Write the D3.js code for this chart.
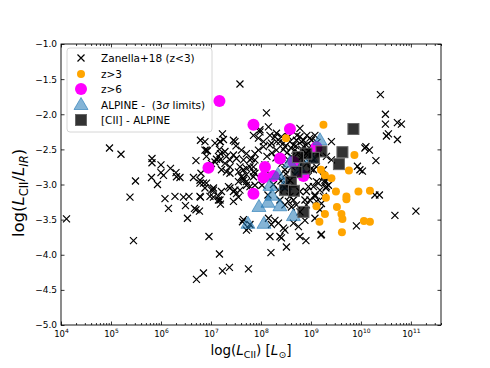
<!DOCTYPE html>
<html>
<head>
<meta charset="utf-8">
<script src="https://cdn.jsdelivr.net/npm/d3@7"></script>
<style>
  body { margin: 0; background: #fff; }
  text { font-family: "DejaVu Sans", sans-serif; }
</style>
</head>
<body>
<svg id="chart" width="490" height="368"></svg>
<script>
// values are [log10 L_CII, log(L_CII/L_IR)]
const zanella = [
  [4.11,-3.49],[4.97,-2.48],[5.20,-2.57],[5.49,-2.95],[5.38,-3.18],[5.45,-3.80],[5.82,-2.63],[5.82,-2.69],
  [5.81,-2.90],[5.93,-3.00],[6.00,-2.72],[6.00,-2.83],[6.19,-2.77],[6.30,-2.83],[6.31,-2.89],[6.38,-2.90],
  [6.08,-3.20],[6.15,-3.34],[6.28,-3.17],[6.49,-3.30],[6.53,-3.48],[6.56,-3.17],[6.67,-3.34],[6.77,-3.38],
  [6.65,-2.90],[6.70,-2.66],[6.79,-2.37],[6.91,-2.51],[6.80,-2.84],[6.85,-2.98],[6.91,-2.98],[6.79,-3.18],
  [6.96,-3.74],[6.71,-4.35],[6.85,-4.26],[6.05,-2.87],[6.45,-3.18],[6.70,-3.36],
  [7.23,-2.28],[7.25,-2.36],[7.19,-2.39],[7.48,-2.39],[7.50,-2.45],[6.93,-2.52],[7.17,-2.50],[7.19,-2.56],
  [7.11,-2.64],[7.31,-2.60],[7.38,-2.65],[7.45,-2.58],[7.51,-2.63],[7.28,-2.70],[7.38,-2.75],[7.01,-2.70],
  [7.08,-2.68],[7.21,-2.79],[7.31,-2.82],[7.38,-2.84],[6.88,-3.05],[7.01,-3.08],[7.05,-3.18],[7.15,-3.22],
  [7.19,-3.28],[7.35,-3.03],[7.38,-3.05],[7.45,-3.10],[7.51,-3.13],[7.55,-3.18],[7.58,-1.57],[8.11,-1.98],
  [7.63,-3.53],[7.75,-3.62],[8.15,-3.48],[8.28,-3.51],[8.35,-3.55],[8.45,-3.62],[8.48,-3.65],[8.65,-3.55],
  [8.75,-3.60],[8.88,-3.51],[9.08,-3.48],[8.18,-3.74],[8.41,-3.76],[8.51,-3.89],[8.78,-3.74],[8.90,-3.80],
  [9.20,-3.72],[8.20,-3.97],[7.75,-4.20],[7.17,-3.99],[7.23,-4.23],[7.37,-4.18],
  [10.39,-1.72],[10.49,-2.00],[10.49,-2.14],[10.73,-2.12],[10.81,-2.14],[10.55,-2.28],[10.51,-2.31],[10.73,-2.36],
  [9.41,-2.39],[10.10,-2.46],[10.08,-2.48],[10.17,-2.51],[10.30,-2.66],[9.93,-2.74],[9.98,-2.79],[10.03,-2.81],
  [9.28,-2.97],[9.30,-3.05],[10.28,-3.15],[10.37,-3.15],[9.21,-3.27],[9.18,-3.36],[10.68,-3.44],[11.10,-3.38],
  [9.91,-3.59],[9.21,-3.71],[9.41,-2.65],[9.31,-2.60],
  [6.88,-2.39],[7.18,-2.39],[7.65,-2.65],[7.81,-2.63],[7.88,-2.56],[7.95,-2.51],[8.05,-2.46],[8.18,-2.44],
  [8.31,-2.39],[8.45,-2.41],[8.58,-2.39],[6.78,-2.98],[7.05,-3.08],[7.15,-3.17],[7.65,-2.91],[7.71,-2.96],
  [7.78,-3.03],[7.58,-3.08],[7.61,-2.89],[7.71,-2.86],[7.85,-2.82],[7.85,-2.89],[7.78,-2.75],[7.65,-2.79],
  [7.55,-2.82],[8.38,-3.22],[8.48,-3.29],[8.55,-3.24],[8.61,-3.32],[8.71,-3.29],[8.78,-3.39],[8.91,-3.29],
  [8.98,-3.22],[9.08,-3.15],[9.11,-3.24],[8.91,-3.10],[9.05,-3.03],[9.18,-3.08],[7.65,-3.50],[7.78,-3.57],
  [7.71,-3.65],[8.21,-3.57],[8.38,-3.74],
  [8.15,-2.18],[7.98,-2.25],[7.95,-2.34],[8.18,-2.30],[8.31,-2.27],[8.41,-2.32],[8.78,-2.20],[8.85,-2.37],
  [8.98,-2.34],[8.71,-2.37],[8.65,-2.44],[6.88,-2.51],[6.91,-2.60],[7.08,-2.41],[7.45,-2.37],[7.28,-2.53],
  [7.15,-2.60],[7.61,-2.51],[7.71,-2.56],[7.78,-2.65],[7.88,-2.65],[7.58,-2.75],[7.71,-2.77],[7.85,-2.75],
  [7.18,-2.65],[6.78,-2.94],[7.05,-3.05],[7.21,-3.10],[7.65,-2.94],[7.71,-3.01],[6.78,-3.17],[6.98,-3.17],
  [7.18,-3.22],[7.45,-3.24],[8.85,-2.46],[8.91,-2.56],[9.05,-2.65],[9.11,-2.75],[9.25,-2.79],[9.05,-2.79],
  [9.25,-2.89],[9.15,-2.98],[9.31,-3.03],[9.25,-3.17],[9.08,-3.17],
  [7.85,-2.30],[7.98,-2.22],[8.28,-2.32],[8.05,-2.39],[8.21,-2.41],[8.38,-2.39],[8.48,-2.46],[8.31,-2.51],
  [8.78,-2.32],[8.81,-2.39],[8.91,-2.44],[9.01,-2.37],[9.08,-2.30],[8.68,-2.51],[8.61,-2.60],[7.88,-2.84],
  [7.55,-2.96],[7.88,-3.01],[7.48,-3.08],[8.35,-2.89],[8.35,-3.08],[8.48,-3.05],[8.58,-3.17],[8.65,-3.22],
  [8.78,-3.10],[8.95,-3.03],[9.11,-2.96],[9.28,-2.94],[9.35,-3.01],[8.88,-3.22],
  [8.08,-2.72],[8.18,-2.86],[8.48,-2.79],[8.68,-2.86],[8.78,-2.72],[8.58,-2.94],[8.02,-3.01],[8.14,-3.15],
  [8.45,-2.50],[8.52,-2.55],[8.60,-2.48],[8.70,-2.45],[8.75,-2.55],[8.82,-2.50],[8.88,-2.62],[8.95,-2.52],
  [9.00,-2.45],[9.02,-2.58],[8.55,-2.65],[8.62,-2.75],[8.70,-2.68],[8.80,-2.62],[8.92,-2.70],[9.00,-2.78],
  [8.50,-2.85],[8.42,-2.70],[8.30,-2.62],[8.22,-2.55],[8.12,-2.60],[8.40,-2.95],[8.52,-3.00],[8.25,-3.00],
  [8.95,-2.88],[9.15,-2.55],[9.12,-2.40],[8.72,-2.30],[8.92,-2.30],[8.55,-2.32]
];

const zGt3 = [
  [9.25,-2.15],[8.50,-2.34],[9.87,-2.58],[9.76,-2.80],[9.20,-2.79],[9.28,-2.87],[9.41,-2.91],[9.50,-3.10],
  [9.30,-3.19],[9.71,-3.17],[9.71,-3.21],[9.95,-3.10],[10.18,-3.09],[9.11,-3.31],[9.52,-3.32],[9.61,-3.42],
  [9.63,-3.49],[9.28,-3.42],[9.17,-3.53],[10.06,-3.52],[10.18,-3.53],[9.62,-3.68]
];

const zGt6 = [
  [7.17,-1.81],[7.85,-2.15],[8.58,-2.21],[8.38,-2.63],[6.95,-2.76],[8.08,-2.75],
  [8.05,-2.90],[8.25,-2.88],[7.85,-3.13],[9.11,-2.47],[8.85,-2.88],[8.65,-2.68]
];

const alpineLimits = [
  [7.74,-3.56],[8.06,-3.56],[7.96,-3.32],[8.14,-3.26],[8.22,-3.16],[8.18,-3.02],[8.38,-3.31],
  [8.65,-3.45],[8.58,-2.69],[8.78,-2.79],[9.01,-2.63],[9.18,-2.37],[8.48,-3.01],[8.34,-2.86]
];

const alpineCII = [
  [9.85,-2.21],[9.63,-2.54],[9.56,-2.71],[9.21,-2.53],[9.06,-2.62],[8.91,-2.56],[8.74,-2.61],
  [8.88,-2.77],[8.71,-2.82],[8.60,-2.96],[8.48,-3.08],[8.66,-3.09],[8.85,-3.39]
];

const yTicks = [-5.0, -4.5, -4.0, -3.5, -3.0, -2.5, -2.0, -1.5, -1.0];
const xDecades = [4, 5, 6, 7, 8, 9, 10, 11];
const legendLabels = ["Zanella+18 (z<3)", "z>3", "z>6", "ALPINE -  (3σ limits)", "[CII] - ALPINE"];

main();

function main() {
  const svg = d3.select("#chart");
  const xLeft = 61, xRight = 441, yTop = 44, yBottom = 325;

  const x = d3.scaleLog().domain([1e4, 4e11]).range([xLeft, xRight]);
  const y = d3.scaleLinear().domain([-5, -1]).range([yBottom, yTop]);
  const px = d => x(Math.pow(10, d[0]));
  const py = d => y(d[1]);

  const majorX = xDecades.map(e => Math.pow(10, e));
  const minorX = [];
  xDecades.forEach(e => {
    for (let k = 2; k <= 9; k++) {
      const v = k * Math.pow(10, e);
      if (v <= 4e11) minorX.push(v);
    }
  });

  // axes, ticks pointing inward
  const gx = svg.append("g").attr("transform", `translate(0,${yBottom})`)
    .call(d3.axisBottom(x).tickValues(majorX).tickSize(-3.5).tickSizeOuter(0).tickFormat(""));
  svg.append("g").attr("transform", `translate(0,${yBottom})`)
    .call(d3.axisBottom(x).tickValues(minorX).tickSize(-2).tickSizeOuter(0).tickFormat(""));
  svg.append("g").attr("transform", `translate(0,${yTop})`)
    .call(d3.axisTop(x).tickValues(majorX).tickSize(-3.5).tickSizeOuter(0).tickFormat(""));
  svg.append("g").attr("transform", `translate(0,${yTop})`)
    .call(d3.axisTop(x).tickValues(minorX).tickSize(-2).tickSizeOuter(0).tickFormat(""));
  svg.append("g").attr("transform", `translate(${xLeft},0)`)
    .call(d3.axisLeft(y).tickValues(yTicks).tickSize(-3.5).tickSizeOuter(0).tickPadding(4)
      .tickFormat(d3.format(".1f")))
    .call(g => g.selectAll("text").attr("font-size", 9).attr("fill", "#000")
      .attr("font-family", "DejaVu Sans"));
  svg.append("g").attr("transform", `translate(${xRight},0)`)
    .call(d3.axisRight(y).tickValues(yTicks).tickSize(-3.5).tickSizeOuter(0).tickFormat(""));
  svg.selectAll(".domain").remove();
  svg.selectAll(".tick line").attr("stroke", "#000").attr("stroke-width", 0.8);

  gx.selectAll(".tick").each(function(d) {
    const t = d3.select(this).append("text")
      .attr("y", 11.5).attr("text-anchor", "middle").attr("fill", "#000").attr("font-size", 8.5);
    t.append("tspan").text("10");
    t.append("tspan").attr("dy", -3.5).attr("font-size", 6).text(Math.round(Math.log10(d)));
  });

  // data layers
  const plot = svg.append("g");

  plot.selectAll(".zan").data(zanella).join("path")
    .attr("transform", d => `translate(${px(d)},${py(d)})`)
    .attr("d", "M-3.5,-3.5L3.5,3.5M-3.5,3.5L3.5,-3.5")
    .attr("stroke", "#000").attr("stroke-width", 1.2).attr("fill", "none");

  plot.selectAll(".z3").data(zGt3).join("circle")
    .attr("cx", px).attr("cy", py).attr("r", 4).attr("fill", "orange");

  plot.selectAll(".z6").data(zGt6).join("circle")
    .attr("cx", px).attr("cy", py).attr("r", 6).attr("fill", "magenta");

  const triPath = "M0,-7.5L7,4.5L-7,4.5Z";
  plot.selectAll(".alp").data(alpineLimits).join("path")
    .attr("transform", d => `translate(${px(d)},${py(d)})`)
    .attr("d", triPath)
    .attr("fill", "#1f77b4").attr("fill-opacity", 0.55)
    .attr("stroke", "#1f77b4").attr("stroke-opacity", 0.6).attr("stroke-width", 1);

  plot.selectAll(".cii").data(alpineCII).join("rect")
    .attr("x", d => px(d) - 5.5).attr("y", d => py(d) - 5.5)
    .attr("width", 11).attr("height", 11)
    .attr("fill", "#000").attr("fill-opacity", 0.8)
    .attr("stroke", "#666").attr("stroke-width", 1);

  // frame
  svg.append("rect").attr("x", xLeft).attr("y", yTop)
    .attr("width", xRight - xLeft).attr("height", yBottom - yTop)
    .attr("fill", "none").attr("stroke", "#000").attr("stroke-width", 0.9);

  // legend
  const lg = svg.append("g");
  lg.append("rect").attr("x", 67).attr("y", 48).attr("width", 145).attr("height", 84).attr("rx", 3)
    .attr("fill", "#fff").attr("fill-opacity", 0.8).attr("stroke", "#ccc").attr("stroke-width", 0.8);
  const rowY = [58, 74, 89, 105, 120];
  lg.append("path").attr("transform", `translate(81,${rowY[0]})`)
    .attr("d", "M-3.5,-3.5L3.5,3.5M-3.5,3.5L3.5,-3.5").attr("stroke", "#000").attr("stroke-width", 1.2);
  lg.append("circle").attr("cx", 81).attr("cy", rowY[1]).attr("r", 4).attr("fill", "orange");
  lg.append("circle").attr("cx", 81).attr("cy", rowY[2]).attr("r", 6).attr("fill", "magenta");
  lg.append("path").attr("transform", `translate(81,${rowY[3]})`).attr("d", triPath)
    .attr("fill", "#1f77b4").attr("fill-opacity", 0.55)
    .attr("stroke", "#1f77b4").attr("stroke-opacity", 0.6);
  lg.append("rect").attr("x", 75.5).attr("y", rowY[4] - 5.5).attr("width", 11).attr("height", 11)
    .attr("fill", "#000").attr("fill-opacity", 0.8).attr("stroke", "#666");

  lg.selectAll(".lt").data(legendLabels).join("text")
    .attr("x", 101).attr("y", (d, i) => rowY[i] + 4)
    .attr("font-size", 10.5).attr("fill", "#000")
    .style("white-space", "pre")
    .each(function(d) {
      const t = d3.select(this);
      if (d.includes("σ")) {
        const parts = d.split("σ");
        t.append("tspan").text(parts[0]);
        t.append("tspan").attr("font-style", "italic").text("σ");
        t.append("tspan").text(parts[1]);
      } else {
        t.text(d);
      }
    });

  // axis labels
  const xl = svg.append("text").attr("x", 251).attr("y", 355)
    .attr("text-anchor", "middle").attr("font-size", 13.5).attr("fill", "#000");
  xl.append("tspan").text("log(");
  xl.append("tspan").attr("font-style", "italic").text("L");
  xl.append("tspan").attr("dy", 3).attr("font-size", 9.5).text("CII");
  xl.append("tspan").attr("dy", -3).text(") [");
  xl.append("tspan").attr("font-style", "italic").text("L");
  xl.append("tspan").attr("dy", 3).attr("font-size", 9.5).text("⊙");
  xl.append("tspan").attr("dy", -3).text("]");

  const yl = svg.append("text")
    .attr("transform", "translate(24,193) rotate(-90)")
    .attr("text-anchor", "middle").attr("font-size", 16.5).attr("fill", "#000");
  yl.append("tspan").text("log(");
  yl.append("tspan").attr("font-style", "italic").text("L");
  yl.append("tspan").attr("dy", 4).attr("font-size", 11.5).text("CII");
  yl.append("tspan").attr("dy", -4).text("/");
  yl.append("tspan").attr("font-style", "italic").text("L");
  yl.append("tspan").attr("dy", 4).attr("font-size", 11.5).attr("font-style", "italic").text("IR");
  yl.append("tspan").attr("dy", -4).text(")");
}
</script>
</body>
</html>
